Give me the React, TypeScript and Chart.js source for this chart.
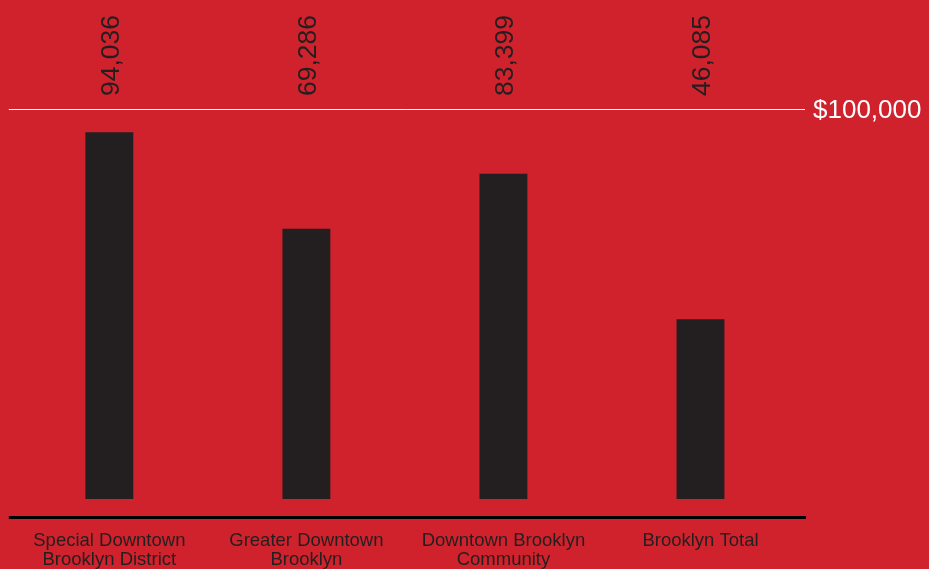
import React, { useEffect, useRef } from "react";
import { Chart, registerables } from "chart.js";

Chart.register(...registerables);

const categories: string[][] = [
  ["Special Downtown", "Brooklyn District"],
  ["Greater Downtown", "Brooklyn"],
  ["Downtown Brooklyn", "Community"],
  ["Brooklyn Total"],
];
const incomeValues: number[] = [94036, 69286, 83399, 46085];
const referenceValue = 100000;
const referenceLabel = "$100,000";

const BG = "#d0222d";
const INK = "#231f20";
const FONT = "'Liberation Sans', Arial, Helvetica, sans-serif";

const decorPlugin = {
  id: "decor",
  beforeDraw(chart: any) {
    const { ctx, width, height } = chart;
    ctx.save();
    ctx.fillStyle = BG;
    ctx.fillRect(0, 0, width, height);
    ctx.restore();
  },
  afterDatasetsDraw(chart: any) {
    const { ctx, chartArea, scales } = chart;
    const y = scales.y;
    const meta = chart.getDatasetMeta(0);
    ctx.save();
    // reference line
    const ry = Math.round(y.getPixelForValue(referenceValue)) + 0.5;
    ctx.strokeStyle = "#ffffff";
    ctx.lineWidth = 1;
    ctx.beginPath();
    ctx.moveTo(chartArea.left - 2, ry);
    ctx.lineTo(chartArea.right + 6, ry);
    ctx.stroke();
    ctx.fillStyle = "#ffffff";
    ctx.font = `26px ${FONT}`;
    ctx.textAlign = "left";
    ctx.textBaseline = "middle";
    ctx.fillText(referenceLabel, chartArea.right + 14, ry + 1);

    // x axis line
    ctx.strokeStyle = "#000000";
    ctx.lineWidth = 3;
    ctx.beginPath();
    ctx.moveTo(chartArea.left - 2, chartArea.bottom + 18.5);
    ctx.lineTo(chartArea.right + 7, chartArea.bottom + 18.5);
    ctx.stroke();

    // value labels
    ctx.fillStyle = INK;
    ctx.font = `26.5px ${FONT}`;
    ctx.textAlign = "left";
    ctx.textBaseline = "alphabetic";
    meta.data.forEach((bar: any, i: number) => {
      const txt = incomeValues[i].toLocaleString("en-US");
      ctx.save();
      ctx.translate(bar.x + 9.5, chartArea.top - 13);
      ctx.rotate(-Math.PI / 2);
      ctx.fillText(txt, 0, 0);
      ctx.restore();
    });
    ctx.restore();
  },
};

export default function App() {
  const ref = useRef<HTMLCanvasElement | null>(null);
  useEffect(() => {
    if (!ref.current) return;
    const chart = new Chart(ref.current, {
      type: "bar",
      data: {
        labels: categories,
        datasets: [
          {
            data: incomeValues,
            backgroundColor: INK,
            borderWidth: 0,
            categoryPercentage: 1,
            barPercentage: 0.243,
          },
        ],
      },
      options: {
        animation: false,
        responsive: false,
        maintainAspectRatio: false,
        layout: { padding: { top: 109, left: 10, right: 130, bottom: 0 } },
        plugins: { legend: { display: false }, tooltip: { enabled: false } },
        scales: {
          y: { display: false, min: 0, max: referenceValue },
          x: {
            grid: { display: false, drawTicks: false },
            border: { display: false },
            afterFit: (scale: any) => {
              scale.height = 70;
            },
            ticks: {
              color: INK,
              padding: 32,
              maxRotation: 0,
              autoSkip: false,
              font: { family: FONT, size: 18.5, lineHeight: 1.03 },
            },
          },
        },
      },
      plugins: [decorPlugin],
    });
    return () => chart.destroy();
  }, []);
  return (
    <div style={{ position: "fixed", left: 0, top: 0, width: 929, height: 569, background: BG }}>
      <canvas ref={ref} width={929} height={569} style={{ display: "block", width: 929, height: 569 }} />
    </div>
  );
}
